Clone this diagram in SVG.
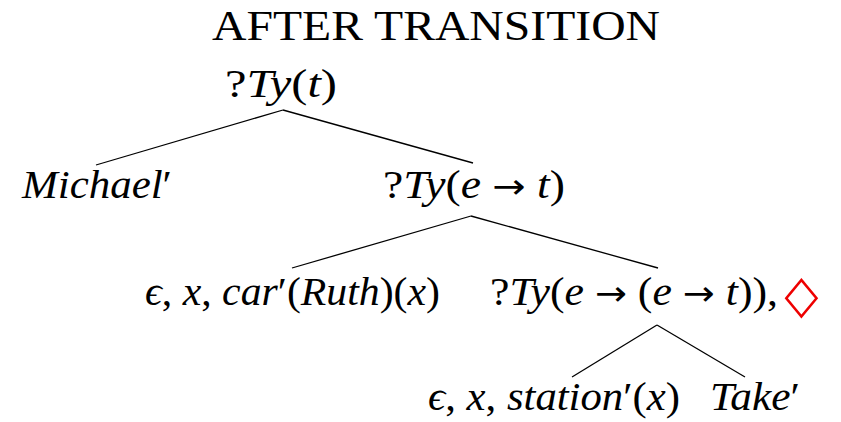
<svg xmlns="http://www.w3.org/2000/svg" width="841" height="422" viewBox="0 0 841 422">
<style>
text{font-family:"Liberation Serif","DejaVu Serif",serif;fill:#000}
.m{font-size:39px}
.i{font-style:italic}
.a{font-family:"DejaVu Sans",sans-serif;font-size:34px}
.e{stroke:#000;stroke-width:1.3;fill:none}
</style>
<rect width="841" height="422" fill="#fff"/>
<text x="212" y="40" font-size="42" textLength="448" lengthAdjust="spacingAndGlyphs">AFTER TRANSITION</text>
<g id="edges">
<line class="e" x1="283" y1="110" x2="96" y2="165"/>
<line class="e" x1="283" y1="110" x2="473" y2="163"/>
<line class="e" x1="471" y1="216" x2="292" y2="268"/>
<line class="e" x1="471" y1="216" x2="658" y2="268"/>
<line class="e" x1="657" y1="325" x2="572" y2="377"/>
<line class="e" x1="657" y1="325" x2="745" y2="377"/>
</g>
<g id="n-root"><text class="m" x="225" y="97" textLength="112" lengthAdjust="spacingAndGlyphs">?<tspan class="i">Ty</tspan>(<tspan class="i">t</tspan>)</text></g>
<g id="n-michael"><text class="m" x="22" y="198" textLength="150" lengthAdjust="spacingAndGlyphs"><tspan class="i">Michael</tspan>′</text></g>
<g id="n-tyet"><text class="m" x="383" y="198" textLength="182" lengthAdjust="spacingAndGlyphs">?<tspan class="i">Ty</tspan>(<tspan class="i">e</tspan> <tspan class="a">→</tspan> <tspan class="i">t</tspan>)</text></g>
<g id="n-car"><text class="m" x="145" y="305" textLength="295" lengthAdjust="spacingAndGlyphs"><tspan class="i">ϵ</tspan>, <tspan class="i">x</tspan>, <tspan class="i">car</tspan>′(<tspan class="i">Ruth</tspan>)(<tspan class="i">x</tspan>)</text></g>
<g id="n-tyeet"><text class="m" x="490" y="305" textLength="288" lengthAdjust="spacingAndGlyphs">?<tspan class="i">Ty</tspan>(<tspan class="i">e</tspan> <tspan class="a">→</tspan> (<tspan class="i">e</tspan> <tspan class="a">→</tspan> <tspan class="i">t</tspan>)),</text>
<text transform="translate(801.5,298) scale(1,1.2)" x="0" y="11.5" font-size="44" text-anchor="middle" style="font-family:'DejaVu Sans',sans-serif;fill:#e00">◇</text></g>
<g id="n-station"><text class="m" x="428" y="410" textLength="252" lengthAdjust="spacingAndGlyphs"><tspan class="i">ϵ</tspan>, <tspan class="i">x</tspan>, <tspan class="i">station</tspan>′(<tspan class="i">x</tspan>)</text></g>
<g id="n-take"><text class="m" x="710" y="410" textLength="90" lengthAdjust="spacingAndGlyphs"><tspan class="i">Take</tspan>′</text></g>
</svg>
